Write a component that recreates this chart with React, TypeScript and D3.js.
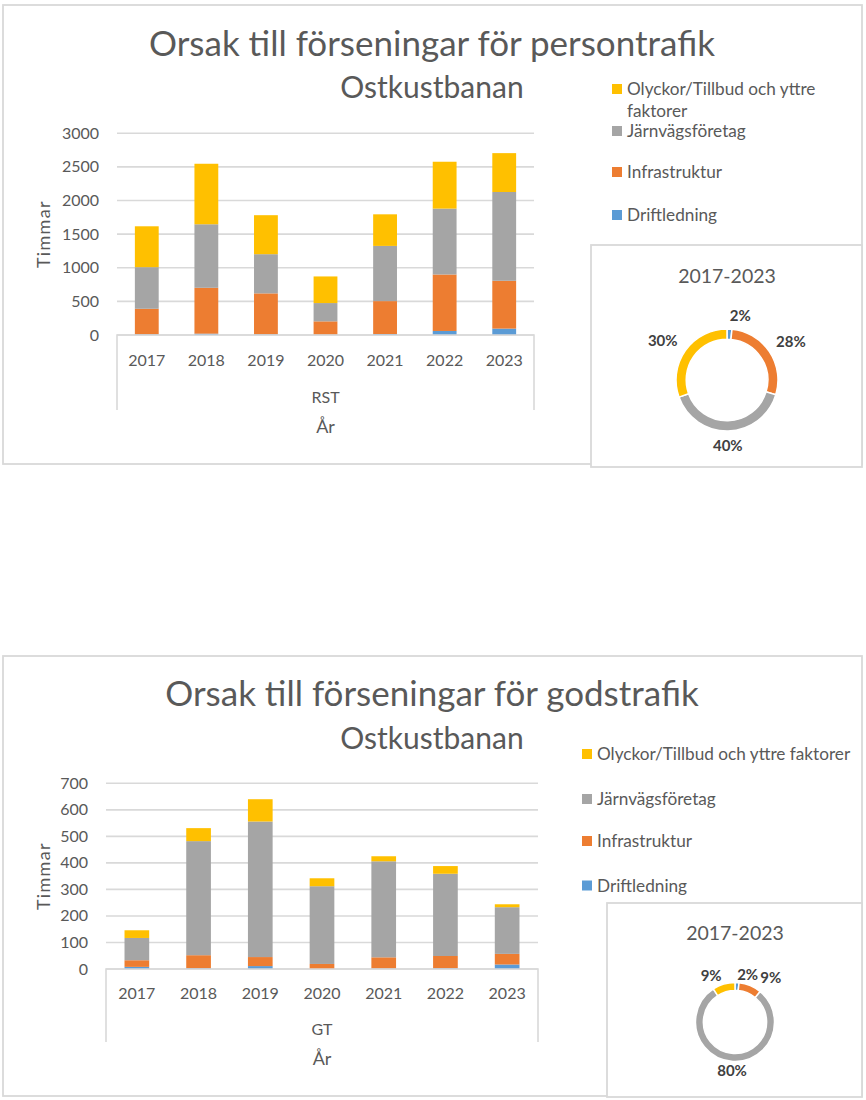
import React from 'react';
import * as d3 from 'd3';

const YEARS = ['2017', '2018', '2019', '2020', '2021', '2022', '2023'];
const SERIES = ['Driftledning', 'Infrastruktur', 'Järnvägsföretag', 'Olyckor/Tillbud och yttre faktorer'];
const COLORS = ['#5B9BD5', '#ED7D31', '#A5A5A5', '#FFC000'];

// Persontrafik (RST), hours
const RST_DRIFT = [10, 20, 10, 5, 15, 60, 95];
const RST_INFRA = [380, 682, 609, 198, 489, 840, 711];
const RST_JARN = [619, 945, 583, 272, 821, 980, 1321];
const RST_OLYCK = [608, 900, 580, 396, 470, 697, 578];
const RST_TICKS = [0, 500, 1000, 1500, 2000, 2500, 3000];

// Godstrafik (GT), hours
const GT_DRIFT = [8, 3, 11, 0, 2, 3, 17];
const GT_INFRA = [25, 49, 34, 19, 42, 46, 40];
const GT_JARN = [84, 430, 511, 293, 362, 310, 176];
const GT_OLYCK = [29, 49, 84, 30, 19, 29, 11];
const GT_TICKS = [0, 100, 200, 300, 400, 500, 600, 700];

const FONT = "Lato, 'Open Sans', sans-serif";
const TXT = '#595959';
const LINE = '#D9D9D9';

type Layout = {
  box: [number, number, number, number];
  titleY: number;
  subY: number;
  title: string;
  px0: number;
  px1: number;
  pTop: number;
  pZero: number;
  axisBottom: number;
  yearY: number;
  groupY: number;
  axisTitleY: number;
  group: string;
  tickX: number;
  legendX: number;
  legendRows: { lines: string[]; y: number }[];
  legendLineGap: number;
  dBox: [number, number, number, number];
  dCx: number;
  dCy: number;
  dR: number;
  dLabOff: number;
  dTitleY: number;
};

const LAB_FS = 15;
const labWidth = (s: string) =>
  s.split('').reduce((w, c) => w + (c === '%' ? 0.9 : 0.58), 0) * LAB_FS;

function Panel({ series, ticks, L }: { series: number[][]; ticks: number[]; L: Layout }) {
  const rows = YEARS.map((y, i) => {
    const o: any = { year: y };
    SERIES.forEach((s, k) => (o[s] = series[k][i]));
    return o;
  });
  const stack = d3.stack<any>().keys(SERIES)(rows);
  const x = d3.scaleBand<string>().domain(YEARS).range([L.px0, L.px1]).paddingInner(0.6).paddingOuter(0.3);
  const y = d3.scaleLinear().domain([0, ticks[ticks.length - 1]]).range([L.pZero, L.pTop]);

  const sums = series.map((s) => d3.sum(s));
  const total = d3.sum(sums);
  const pie = d3.pie<number>().sort(null).value((d) => d)(sums);
  const arc = d3.arc<d3.PieArcDatum<number>>().innerRadius(L.dR * 0.8).outerRadius(L.dR);
  const labR = L.dR + L.dLabOff;

  // label placement with simple left-to-right collision avoidance on the upper right
  let prevRight = -Infinity;
  const labels = pie.map((p, k) => {
    const txt = `${Math.round((sums[k] / total) * 100)}%`;
    const w = labWidth(txt);
    const a = (p.startAngle + p.endAngle) / 2;
    const sx = Math.sin(a);
    const cy = Math.cos(a);
    let left = sx * labR;
    const py = -cy * labR;
    left += sx > 0.03 ? 0 : sx < -0.1 ? -w : -w / 2;
    if (cy > 0.3 && sx >= 0) {
      if (left < prevRight + 1) left = prevRight + 1;
      prevRight = left + w;
    }
    const dy = cy > 0.3 ? 0 : cy < -0.3 ? 12 : 5;
    return { txt, x: left, y: py + dy };
  });

  const legendOrder = [3, 2, 1, 0];
  return (
    <g>
      <rect x={L.box[0]} y={L.box[1]} width={L.box[2] - L.box[0]} height={L.box[3] - L.box[1]} fill="#fff" stroke={LINE} strokeWidth={1.8} />
      <text x={432} y={L.titleY} textAnchor="middle" fontSize={35} fill={TXT} fontFamily={FONT}>{L.title}</text>
      <text x={432} y={L.subY} textAnchor="middle" fontSize={30} fill={TXT} fontFamily={FONT}>Ostkustbanan</text>
      {ticks.map((t) => (
        <g key={t}>
          <line x1={L.px0} x2={L.px1} y1={y(t)} y2={y(t)} stroke={LINE} strokeWidth={1.6} />
          <text x={L.tickX} y={y(t) + 5.5} textAnchor="end" fontSize={16} fill={TXT} fontFamily={FONT}>{t}</text>
        </g>
      ))}
      <text transform={`translate(50,${(L.pTop + L.pZero) / 2}) rotate(-90)`} textAnchor="middle" fontSize={18} fill={TXT} fontFamily={FONT} letterSpacing={1.3}>Timmar</text>
      {stack.map((layer, k) => (
        <g key={k} fill={COLORS[k]}>
          {layer.map((d, i) => (
            <rect key={i} x={x(YEARS[i])} width={x.bandwidth()} y={y(d[1])} height={Math.max(0, y(d[0]) - y(d[1]))} />
          ))}
        </g>
      ))}
      <path d={`M${L.px0},${L.axisBottom}V${L.pZero}H${L.px1}V${L.axisBottom}`} fill="none" stroke={LINE} strokeWidth={1.6} />
      {YEARS.map((yr) => (
        <text key={yr} x={(x(yr) as number) + x.bandwidth() / 2} y={L.yearY} textAnchor="middle" fontSize={16} fill={TXT} fontFamily={FONT}>{yr}</text>
      ))}
      <text x={(L.px0 + L.px1) / 2} y={L.groupY} textAnchor="middle" fontSize={16} fill={TXT} fontFamily={FONT}>{L.group}</text>
      <text x={(L.px0 + L.px1) / 2} y={L.axisTitleY} textAnchor="middle" fontSize={18} fill={TXT} fontFamily={FONT}>År</text>
      {legendOrder.map((k, j) => {
        const r = L.legendRows[j];
        return (
          <g key={k}>
            <rect x={L.legendX} y={r.y - 11} width={10} height={10} fill={COLORS[k]} />
            {r.lines.map((ln, m) => (
              <text key={m} x={L.legendX + 15} y={r.y + m * L.legendLineGap} fontSize={17.2} fill={TXT} fontFamily={FONT}>{ln}</text>
            ))}
          </g>
        );
      })}
      <rect x={L.dBox[0]} y={L.dBox[1]} width={L.dBox[2] - L.dBox[0]} height={L.dBox[3] - L.dBox[1]} fill="#fff" stroke={LINE} strokeWidth={1.8} />
      <text x={L.dCx} y={L.dTitleY} textAnchor="middle" fontSize={19.5} fill={TXT} fontFamily={FONT}>2017-2023</text>
      <g transform={`translate(${L.dCx},${L.dCy})`}>
        {pie.map((p, k) => (
          <path key={k} d={arc(p) as string} fill={COLORS[k]} stroke="#fff" strokeWidth={1.5} />
        ))}
        {labels.map((lb, k) => (
          <text key={k} x={lb.x} y={lb.y} textAnchor="start" fontSize={LAB_FS} fontWeight="bold" fill="#404040" fontFamily={FONT}>
            {lb.txt}
          </text>
        ))}
      </g>
    </g>
  );
}

const TOP: Layout = {
  box: [3, 5, 862, 464],
  titleY: 56,
  subY: 98,
  title: 'Orsak till förseningar för persontrafik',
  px0: 117,
  px1: 534,
  pTop: 133.3,
  pZero: 335,
  axisBottom: 410,
  yearY: 366,
  groupY: 403,
  axisTitleY: 433,
  group: 'RST',
  tickX: 99,
  legendX: 612,
  legendRows: [
    { lines: ['Olyckor/Tillbud och yttre', 'faktorer'], y: 95 },
    { lines: ['Järnvägsföretag'], y: 137 },
    { lines: ['Infrastruktur'], y: 178 },
    { lines: ['Driftledning'], y: 221 },
  ],
  legendLineGap: 21.5,
  dBox: [591, 245, 862, 467],
  dCx: 727,
  dCy: 380,
  dR: 51,
  dLabOff: 8,
  dTitleY: 283,
};

const BOTTOM: Layout = {
  box: [3, 656, 862, 1096],
  titleY: 706,
  subY: 749,
  title: 'Orsak till förseningar för godstrafik',
  px0: 106,
  px1: 538,
  pTop: 783.3,
  pZero: 969,
  axisBottom: 1042,
  yearY: 999,
  groupY: 1035,
  axisTitleY: 1065,
  group: 'GT',
  tickX: 88,
  legendX: 582,
  legendRows: [
    { lines: ['Olyckor/Tillbud och yttre faktorer'], y: 760 },
    { lines: ['Järnvägsföretag'], y: 805 },
    { lines: ['Infrastruktur'], y: 847 },
    { lines: ['Driftledning'], y: 891.5 },
  ],
  legendLineGap: 21.5,
  dBox: [607, 903, 862, 1097],
  dCx: 735,
  dCy: 1022,
  dR: 39.5,
  dLabOff: 3,
  dTitleY: 940,
};

export default function App() {
  return (
    <svg width={866} height={1100} style={{ position: 'absolute', left: 0, top: 0, background: '#fff' }}>
      <rect width={866} height={1100} fill="#fff" />
      <Panel series={[RST_DRIFT, RST_INFRA, RST_JARN, RST_OLYCK]} ticks={RST_TICKS} L={TOP} />
      <Panel series={[GT_DRIFT, GT_INFRA, GT_JARN, GT_OLYCK]} ticks={GT_TICKS} L={BOTTOM} />
    </svg>
  );
}
